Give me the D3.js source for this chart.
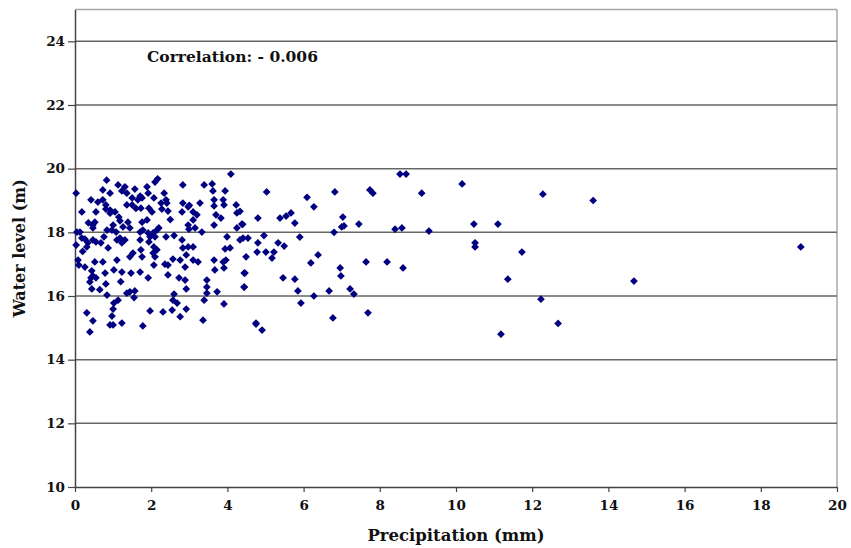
<!DOCTYPE html>
<html>
<head>
<meta charset="utf-8">
<script src="https://cdn.jsdelivr.net/npm/d3@7"></script>
<style>
  body { margin: 0; background: #fff; }
  text { font-family: "DejaVu Serif", serif; font-weight: bold; fill: #111; }
</style>
</head>
<body>
<script>
// precipitation (mm) / water level (m)
var precip = [
  0.03, 0.83, 4.09, 2.17, 2.10, 1.89, 1.13, 1.31, 2.83, 3.39, 3.60, 3.62, 3.94, 0.73, 0.92, 1.23,
  1.36, 1.57, 1.71, 1.76, 1.65, 1.50, 1.92, 2.34, 2.39, 2.41, 2.26, 0.42, 0.73, 0.81, 0.81, 0.92,
  0.92, 1.05, 1.15, 1.36, 1.50, 0.55, 0.18, 2.07, 2.28, 2.44, 1.94, 2.02, 1.73, 2.83, 2.97, 2.81,
  3.10, 3.20, 3.28, 3.10, 2.97, 2.99, 3.15, 3.33, 3.65, 3.65, 3.70, 3.65, 3.83, 3.89, 3.91, 4.23,
  4.25, 4.38, 4.41, 4.25, 3.99, 3.94, 4.07, 3.96, 4.46, 4.44, 3.91, 3.89, 3.67, 3.65, 3.46, 3.46,
  3.46, 3.73, 3.91, 3.36, 4.75, 2.89, 2.92, 2.73, 2.89, 2.76, 2.92, 3.10, 2.83, 2.81, 2.97, 3.10,
  3.23, 2.60, 2.57, 2.68, 2.55, 2.76, 2.92, 2.31, 1.97, 1.78, 2.44, 2.44, 2.36, 1.92, 2.15, 2.07,
  2.05, 2.10, 1.94, 1.71, 1.73, 1.76, 1.52, 1.44, 1.47, 1.71, 1.23, 1.02, 1.10, 0.87, 0.73, 0.52,
  0.79, 0.81, 0.42, 0.47, 0.44, 0.39, 0.55, 0.44, 0.84, 1.02, 1.13, 1.00, 0.97, 1.00, 0.92, 1.23,
  0.31, 0.47, 0.39, 1.36, 1.44, 1.57, 0.08, 0.10, 0.26, 0.03, 0.05, 0.13, 0.18, 0.26, 0.31, 0.34,
  0.47, 0.55, 0.68, 0.76, 0.47, 0.47, 0.52, 0.84, 0.97, 1.00, 1.08, 1.18, 1.26, 1.39, 1.44, 1.31,
  1.18, 1.10, 1.23, 1.71, 1.78, 1.92, 2.05, 2.15, 2.20, 2.10, 1.97, 1.76, 1.89, 2.39, 2.57, 2.07,
  3.39, 4.33, 4.40, 5.03, 4.33, 4.54, 4.80, 4.80, 4.96, 4.49, 4.78, 5.01, 5.22, 5.17, 4.44, 4.44,
  4.75, 4.91, 5.38, 5.54, 5.67, 5.77, 5.90, 5.33, 5.49, 6.09, 6.27, 6.82, 7.03, 7.00, 7.06, 6.80,
  7.45, 7.74, 7.82, 8.53, 8.69, 9.10, 8.40, 8.58, 9.29, 6.38, 6.19, 6.96, 6.98, 7.64, 8.19, 8.61,
  5.46, 5.77, 5.85, 5.93, 6.27, 6.67, 7.22, 7.32, 6.77, 7.69, 10.16, 12.28, 13.60, 10.47, 11.10,
  10.50, 10.50, 11.73, 19.05, 11.36, 14.67, 12.23, 12.68, 11.18,
  0.60, 0.35, 1.60, 2.50, 0.20, 1.20, 2.60, 0.65, 1.55, 3.00
];
var level = [
  19.23, 19.64, 19.83, 19.68, 19.58, 19.43, 19.49, 19.43, 19.49, 19.49, 19.52, 19.30, 19.30, 19.33, 19.23, 19.30,
  19.23, 19.36, 19.14, 19.08, 19.02, 19.08, 19.23, 19.23, 19.02, 18.92, 18.92, 19.02, 19.02, 18.86, 18.73, 18.70,
  18.60, 18.64, 18.48, 18.86, 18.86, 18.64, 18.64, 19.08, 18.73, 18.67, 18.76, 18.64, 18.76, 18.92, 18.80, 18.64,
  18.64, 18.55, 18.92, 18.39, 18.23, 18.10, 18.14, 18.01, 19.02, 18.83, 18.55, 18.23, 18.45, 19.02, 18.86, 18.86,
  18.61, 18.26, 17.82, 18.14, 17.86, 17.48, 17.51, 17.13, 16.72, 16.28, 16.88, 17.07, 16.82, 17.13, 16.50, 16.28,
  16.09, 16.13, 15.75, 15.24, 15.15, 16.50, 16.22, 16.57, 16.91, 17.13, 17.29, 17.13, 17.51, 17.76, 17.54, 17.54,
  17.07, 16.06, 15.87, 15.78, 15.56, 15.35, 15.59, 15.50, 15.53, 15.06, 16.66, 16.97, 17.00, 16.57, 17.45, 17.54,
  17.35, 17.23, 17.70, 17.76, 17.45, 17.23, 17.35, 17.23, 16.72, 16.75, 16.75, 16.82, 17.13, 17.51, 17.07, 17.07,
  16.72, 16.38, 16.57, 16.63, 16.79, 16.44, 16.57, 16.22, 16.03, 15.78, 15.87, 15.59, 15.37, 15.09, 15.09, 15.15,
  15.47, 15.22, 14.87, 16.09, 16.13, 16.16, 17.13, 16.97, 16.91, 17.60, 18.01, 18.01, 17.82, 17.79, 17.54, 17.67,
  17.76, 17.70, 17.67, 17.86, 18.14, 18.23, 18.32, 18.07, 18.07, 18.23, 18.01, 18.36, 18.17, 18.32, 18.14, 17.76,
  17.82, 17.76, 17.67, 18.01, 18.07, 17.98, 17.98, 18.07, 18.14, 17.86, 17.86, 18.32, 18.39, 17.86, 17.16, 16.97,
  15.87, 18.66, 18.25, 19.27, 17.76, 17.82, 18.45, 17.67, 17.90, 17.23, 17.38, 17.38, 17.38, 17.19, 16.72, 16.28,
  15.12, 14.93, 18.45, 18.51, 18.61, 18.29, 17.85, 17.67, 17.57, 19.10, 18.80, 19.27, 18.48, 18.17, 18.20, 18.00,
  18.26, 19.33, 19.23, 19.83, 19.83, 19.23, 18.10, 18.14, 18.04, 17.29, 17.04, 16.88, 16.63, 17.07, 17.07, 16.88,
  16.57, 16.53, 16.16, 15.78, 16.00, 16.16, 16.22, 16.06, 15.31, 15.47, 19.52, 19.20, 19.00, 18.26, 18.26,
  17.67, 17.54, 17.38, 17.54, 16.53, 16.47, 15.90, 15.14, 14.80,
  18.95, 18.30, 18.75, 18.40, 17.40, 16.45, 17.90, 16.20, 15.95, 18.85
];
var xTicks = [0, 2, 4, 6, 8, 10, 12, 14, 16, 18, 20];
var yTicks = [10, 12, 14, 16, 18, 20, 22, 24];
var corrLabel = "Correlation: - 0.006";

var width = 851, height = 548;
var margin = { top: 9.5, right: 14, bottom: 61, left: 75 };

var x = d3.scaleLinear().domain([0, 20]).range([margin.left, width - margin.right]);
var y = d3.scaleLinear().domain([10, 25]).range([height - margin.bottom, margin.top]);

var svg = d3.select("body").append("svg")
  .attr("width", width)
  .attr("height", height);

// frame top / right
svg.append("line")
  .attr("x1", x(0)).attr("x2", x(20)).attr("y1", y(25)).attr("y2", y(25))
  .attr("stroke", "#a8a8a8").attr("stroke-width", 1.5);
svg.append("line")
  .attr("x1", x(20)).attr("x2", x(20)).attr("y1", y(25)).attr("y2", y(10))
  .attr("stroke", "#a8a8a8").attr("stroke-width", 1.5);

// gridlines
svg.append("g").selectAll("line")
  .data(yTicks.slice(1))
  .enter().append("line")
  .attr("x1", x(0)).attr("x2", x(20))
  .attr("y1", d => y(d)).attr("y2", d => y(d))
  .attr("stroke", "#666").attr("stroke-width", 1.5);

// axes
var ejeY = d3.axisLeft(y).tickValues(yTicks).tickSize(7).tickSizeOuter(0).tickPadding(3).tickFormat(d3.format("d"));
var gy = svg.append("g")
  .attr("transform", "translate(" + margin.left + ",0)")
  .call(ejeY);

var ejeX = d3.axisBottom(x).tickValues(xTicks).tickSize(5).tickSizeOuter(0).tickPadding(8).tickFormat(d3.format("d"));
var gx = svg.append("g")
  .attr("transform", "translate(0," + (height - margin.bottom) + ")")
  .call(ejeX);

[gx, gy].forEach(function (g) {
  g.select(".domain").attr("stroke", "#444").attr("stroke-width", 1.5);
  g.selectAll(".tick line").attr("stroke", "#444").attr("stroke-width", 1.2);
  g.selectAll(".tick text")
    .attr("font-family", "DejaVu Serif, serif")
    .attr("font-weight", "bold")
    .attr("font-size", 13.5)
    .attr("fill", "#111");
});

// points
var diamond = d3.symbol().type(d3.symbolSquare).size(30);
svg.append("g").selectAll("path")
  .data(precip.map((p, i) => [p, level[i]]))
  .enter().append("path")
  .attr("d", diamond)
  .attr("transform", d => "translate(" + x(d[0]) + "," + y(d[1]) + ") rotate(45)")
  .attr("fill", "#000080");

// labels
svg.append("text")
  .attr("x", 147).attr("y", y(23.5) + 5)
  .attr("font-size", 15.5)
  .text(corrLabel);

svg.append("text")
  .attr("text-anchor", "middle")
  .attr("x", (x(0) + x(20)) / 2)
  .attr("y", 541)
  .attr("font-size", 16.5)
  .text("Precipitation (mm)");

svg.append("text")
  .attr("text-anchor", "middle")
  .attr("transform", "translate(25," + (y(10) + y(25)) / 2 + ") rotate(-90)")
  .attr("font-size", 16)
  .text("Water level (m)");
</script>
</body>
</html>
